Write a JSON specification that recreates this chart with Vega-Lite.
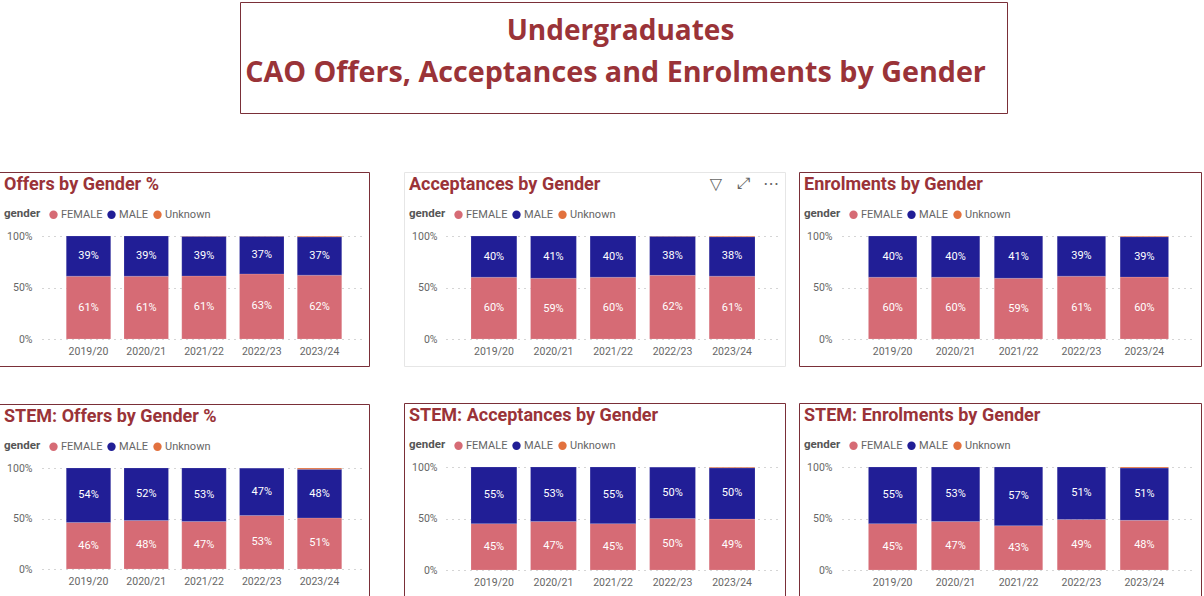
{"$schema":"https://vega.github.io/schema/vega-lite/v6.json","padding":{"left":-2,"top":1,"right":0,"bottom":0},"background":"white","spacing":57,"resolve":{"scale":{"color":"independent"},"legend":{"color":"independent"}},
"config":{"view":{"stroke":null},"font":"Roboto","title":{"font":"Roboto","fontWeight":"bold","fontSize":18,"color":"#9A3338","anchor":"start","frame":"group","offset":0,"dx":5,"dy":26},
"axisX":{"title":null,"domain":false,"ticks":false,"grid":false,"labelAngle":0,"labelColor":"#666666","labelFontSize":10.5,"labelPadding":7},
"axisY":{"title":null,"domain":false,"ticks":false,"grid":true,"gridDash":[1,5],"gridColor":"#aaaaaa","format":".0%","labelColor":"#666666","labelFontSize":10.5,"labelPadding":2},
"legend":{"direction":"horizontal","symbolType":"circle","symbolSize":70,"labelFontSize":11,"labelColor":"#666666","titleFontSize":11.5,"titleColor":"#555555","titleFontWeight":"bold","columnPadding":3,"labelOffset":2,"titlePadding":7,"symbolStrokeWidth":0}},
"datasets":{
"offers":[{"y":"2019/20","g":"FEMALE","v":0.61},{"y":"2019/20","g":"MALE","v":0.39},{"y":"2020/21","g":"FEMALE","v":0.61},{"y":"2020/21","g":"MALE","v":0.39},{"y":"2021/22","g":"FEMALE","v":0.612},{"y":"2021/22","g":"MALE","v":0.385},{"y":"2021/22","g":"Unknown","v":0.003},{"y":"2022/23","g":"FEMALE","v":0.632},{"y":"2022/23","g":"MALE","v":0.366},{"y":"2022/23","g":"Unknown","v":0.002},{"y":"2023/24","g":"FEMALE","v":0.62},{"y":"2023/24","g":"MALE","v":0.372},{"y":"2023/24","g":"Unknown","v":0.008}],
"accept":[{"y":"2019/20","g":"FEMALE","v":0.6},{"y":"2019/20","g":"MALE","v":0.4},{"y":"2020/21","g":"FEMALE","v":0.59},{"y":"2020/21","g":"MALE","v":0.41},{"y":"2021/22","g":"FEMALE","v":0.6},{"y":"2021/22","g":"MALE","v":0.4},{"y":"2022/23","g":"FEMALE","v":0.618},{"y":"2022/23","g":"MALE","v":0.38},{"y":"2022/23","g":"Unknown","v":0.002},{"y":"2023/24","g":"FEMALE","v":0.61},{"y":"2023/24","g":"MALE","v":0.383},{"y":"2023/24","g":"Unknown","v":0.007}],
"enrol":[{"y":"2019/20","g":"FEMALE","v":0.6},{"y":"2019/20","g":"MALE","v":0.4},{"y":"2020/21","g":"FEMALE","v":0.6},{"y":"2020/21","g":"MALE","v":0.4},{"y":"2021/22","g":"FEMALE","v":0.59},{"y":"2021/22","g":"MALE","v":0.41},{"y":"2022/23","g":"FEMALE","v":0.61},{"y":"2022/23","g":"MALE","v":0.389},{"y":"2022/23","g":"Unknown","v":0.001},{"y":"2023/24","g":"FEMALE","v":0.601},{"y":"2023/24","g":"MALE","v":0.392},{"y":"2023/24","g":"Unknown","v":0.007}],
"soffers":[{"y":"2019/20","g":"FEMALE","v":0.46},{"y":"2019/20","g":"MALE","v":0.54},{"y":"2020/21","g":"FEMALE","v":0.48},{"y":"2020/21","g":"MALE","v":0.52},{"y":"2021/22","g":"FEMALE","v":0.47},{"y":"2021/22","g":"MALE","v":0.53},{"y":"2022/23","g":"FEMALE","v":0.53},{"y":"2022/23","g":"MALE","v":0.469},{"y":"2022/23","g":"Unknown","v":0.001},{"y":"2023/24","g":"FEMALE","v":0.506},{"y":"2023/24","g":"MALE","v":0.482},{"y":"2023/24","g":"Unknown","v":0.012}],
"saccept":[{"y":"2019/20","g":"FEMALE","v":0.45},{"y":"2019/20","g":"MALE","v":0.55},{"y":"2020/21","g":"FEMALE","v":0.47},{"y":"2020/21","g":"MALE","v":0.53},{"y":"2021/22","g":"FEMALE","v":0.45},{"y":"2021/22","g":"MALE","v":0.55},{"y":"2022/23","g":"FEMALE","v":0.499},{"y":"2022/23","g":"MALE","v":0.5},{"y":"2022/23","g":"Unknown","v":0.001},{"y":"2023/24","g":"FEMALE","v":0.494},{"y":"2023/24","g":"MALE","v":0.498},{"y":"2023/24","g":"Unknown","v":0.008}],
"senrol":[{"y":"2019/20","g":"FEMALE","v":0.45},{"y":"2019/20","g":"MALE","v":0.55},{"y":"2020/21","g":"FEMALE","v":0.47},{"y":"2020/21","g":"MALE","v":0.53},{"y":"2021/22","g":"FEMALE","v":0.43},{"y":"2021/22","g":"MALE","v":0.57},{"y":"2022/23","g":"FEMALE","v":0.49},{"y":"2022/23","g":"MALE","v":0.51},{"y":"2023/24","g":"FEMALE","v":0.482},{"y":"2023/24","g":"MALE","v":0.508},{"y":"2023/24","g":"Unknown","v":0.01}]},
"vconcat":[
{"spacing":239,"hconcat":[
{"width":1,"height":1,"data":{"values":[]},"mark":"text","encoding":{}},
{"width":767,"height":111,"view":{"stroke":"#7A2F38"},"data":{"values":[{"line":"Undergraduates"},{"line":"CAO Offers, Acceptances and Enrolments by Gender"}]},
"layer":[{"transform":[{"filter":"datum.line=='Undergraduates'"}],"mark":{"type":"text","font":"Open Sans","fontWeight":"bold","fontSize":28,"color":"#9A3338","dx":-3},"encoding":{"y":{"field":"line","type":"nominal","sort":null,"axis":null,"scale":{"type":"point","padding":0,"domain":["Undergraduates","CAO Offers, Acceptances and Enrolments by Gender"],"range":[30,71]}},"text":{"field":"line"}}},
{"transform":[{"filter":"datum.line!='Undergraduates'"}],"mark":{"type":"text","font":"Open Sans","fontWeight":"bold","fontSize":28.7,"color":"#9A3338","dx":-8},"encoding":{"y":{"field":"line","type":"nominal","sort":null,"axis":null,"scale":{"type":"point","padding":0,"domain":["Undergraduates","CAO Offers, Acceptances and Enrolments by Gender"],"range":[30,71]}},"text":{"field":"line"}}}]}
]},
{"spacing":35,"resolve":{"scale":{"color":"independent"},"legend":{"color":"independent"}},"vconcat":[
{"spacing":33,"resolve":{"scale":{"color":"independent"},"legend":{"color":"independent"}},"hconcat":[
{"title":"Offers by Gender %","width":370,"height":194,"view":{"stroke":"#7A2F38"},"data":{"name":"offers"},
"encoding":{"x":{"field":"y","type":"nominal","axis":{"offset":-27},"scale":{"range":[43,367],"paddingInner":0.23,"paddingOuter":0.42}},"y":{"field":"v","type":"quantitative","stack":"zero","axis":{"offset":-35,"values":[0,0.5,1]},"scale":{"domain":[0,1],"nice":false,"range":[167,64]}},"order":{"field":"g","sort":"ascending"}},
"layer":[{"mark":{"type":"bar","stroke":"white","strokeOpacity":0.3,"strokeWidth":0.5},"encoding":{"color":{"field":"g","type":"nominal","scale":{"domain":["FEMALE","MALE","Unknown"],"range":["#D66B75","#211E96","#E2713E"]},"legend":{"title":"gender","orient":"none","titleOrient":"left","legendX":5,"legendY":37}}}},
{"transform":[{"filter":"datum.v>0.1"}],"mark":{"type":"text","color":"white","fontSize":11},"encoding":{"y":{"field":"v","type":"quantitative","stack":"zero","bandPosition":0.5},"detail":{"field":"g"},"text":{"field":"v","format":".0%"}}}]},
{"spacing":12,"resolve":{"scale":{"color":"independent"},"legend":{"color":"independent"}},"hconcat":[
{"title":"Acceptances by Gender","width":381,"height":194,"view":{"stroke":"#E6E6E6"},"data":{"name":"accept"},
"resolve":{"scale":{"x":"independent","y":"independent"}},
"layer":[{"encoding":{"x":{"field":"y","type":"nominal","axis":{"offset":-27},"scale":{"range":[42,376],"paddingInner":0.23,"paddingOuter":0.42}},"y":{"field":"v","type":"quantitative","stack":"zero","axis":{"offset":-35,"values":[0,0.5,1]},"scale":{"domain":[0,1],"nice":false,"range":[167,64]}},"order":{"field":"g","sort":"ascending"}},
"layer":[{"mark":{"type":"bar","stroke":"white","strokeOpacity":0.3,"strokeWidth":0.5},"encoding":{"color":{"field":"g","type":"nominal","scale":{"domain":["FEMALE","MALE","Unknown"],"range":["#D66B75","#211E96","#E2713E"]},"legend":{"title":"gender","orient":"none","titleOrient":"left","legendX":5,"legendY":37}}}},
{"transform":[{"filter":"datum.v>0.1"}],"mark":{"type":"text","color":"white","fontSize":11},"encoding":{"y":{"field":"v","type":"quantitative","stack":"zero","bandPosition":0.5},"detail":{"field":"g"},"text":{"field":"v","format":".0%"}}}]},
{"data":{"values":[{"icon":"▽"},{"icon":"⤢"},{"icon":"⋯"}]},"mark":{"type":"text","font":"DejaVu Sans","fontSize":16,"color":"#666666"},"encoding":{"x":{"field":"icon","type":"nominal","sort":null,"axis":null,"scale":{"type":"point","range":[312,367],"padding":0}},"y":{"field":"icon","type":"nominal","axis":null,"scale":{"type":"point","range":[12,12],"padding":0}},"text":{"field":"icon"}}}]},
{"title":"Enrolments by Gender","width":402,"height":194,"view":{"stroke":"#7A2F38"},"data":{"name":"enrol"},
"encoding":{"x":{"field":"y","type":"nominal","axis":{"offset":-27},"scale":{"range":[43,396],"paddingInner":0.23,"paddingOuter":0.42}},"y":{"field":"v","type":"quantitative","stack":"zero","axis":{"offset":-35,"values":[0,0.5,1]},"scale":{"domain":[0,1],"nice":false,"range":[167,64]}},"order":{"field":"g","sort":"ascending"}},
"layer":[{"mark":{"type":"bar","stroke":"white","strokeOpacity":0.3,"strokeWidth":0.5},"encoding":{"color":{"field":"g","type":"nominal","scale":{"domain":["FEMALE","MALE","Unknown"],"range":["#D66B75","#211E96","#E2713E"]},"legend":{"title":"gender","orient":"none","titleOrient":"left","legendX":5,"legendY":37}}}},
{"transform":[{"filter":"datum.v>0.1"}],"mark":{"type":"text","color":"white","fontSize":11},"encoding":{"y":{"field":"v","type":"quantitative","stack":"zero","bandPosition":0.5},"detail":{"field":"g"},"text":{"field":"v","format":".0%"}}}]}
]}
]},
{"spacing":33,"resolve":{"scale":{"color":"independent"},"legend":{"color":"independent"}},"hconcat":[
{"spacing":-3,"resolve":{"scale":{"color":"independent"},"legend":{"color":"independent"}},"vconcat":[
{"width":1,"height":1,"data":{"values":[]},"mark":"text","encoding":{}},
{"title":"STEM: Offers by Gender %","width":370,"height":195,"view":{"stroke":"#7A2F38"},"data":{"name":"soffers"},
"encoding":{"x":{"field":"y","type":"nominal","axis":{"offset":-30},"scale":{"range":[43,367],"paddingInner":0.23,"paddingOuter":0.42}},"y":{"field":"v","type":"quantitative","stack":"zero","axis":{"offset":-35,"values":[0,0.5,1]},"scale":{"domain":[0,1],"nice":false,"range":[165,64]}},"order":{"field":"g","sort":"ascending"}},
"layer":[{"mark":{"type":"bar","stroke":"white","strokeOpacity":0.3,"strokeWidth":0.5},"encoding":{"color":{"field":"g","type":"nominal","scale":{"domain":["FEMALE","MALE","Unknown"],"range":["#D66B75","#211E96","#E2713E"]},"legend":{"title":"gender","orient":"none","titleOrient":"left","legendX":5,"legendY":37}}}},
{"transform":[{"filter":"datum.v>0.1"}],"mark":{"type":"text","color":"white","fontSize":11},"encoding":{"y":{"field":"v","type":"quantitative","stack":"zero","bandPosition":0.5},"detail":{"field":"g"},"text":{"field":"v","format":".0%"}}}]}
]},
{"spacing":12,"resolve":{"scale":{"color":"independent"},"legend":{"color":"independent"}},"hconcat":[
{"title":"STEM: Acceptances by Gender","width":381,"height":197,"view":{"stroke":"#7A2F38"},"data":{"name":"saccept"},
"encoding":{"x":{"field":"y","type":"nominal","axis":{"offset":-30},"scale":{"range":[42,376],"paddingInner":0.23,"paddingOuter":0.42}},"y":{"field":"v","type":"quantitative","stack":"zero","axis":{"offset":-35,"values":[0,0.5,1]},"scale":{"domain":[0,1],"nice":false,"range":[167,64]}},"order":{"field":"g","sort":"ascending"}},
"layer":[{"mark":{"type":"bar","stroke":"white","strokeOpacity":0.3,"strokeWidth":0.5},"encoding":{"color":{"field":"g","type":"nominal","scale":{"domain":["FEMALE","MALE","Unknown"],"range":["#D66B75","#211E96","#E2713E"]},"legend":{"title":"gender","orient":"none","titleOrient":"left","legendX":5,"legendY":37}}}},
{"transform":[{"filter":"datum.v>0.1"}],"mark":{"type":"text","color":"white","fontSize":11},"encoding":{"y":{"field":"v","type":"quantitative","stack":"zero","bandPosition":0.5},"detail":{"field":"g"},"text":{"field":"v","format":".0%"}}}]},
{"title":"STEM: Enrolments by Gender","width":402,"height":197,"view":{"stroke":"#7A2F38"},"data":{"name":"senrol"},
"encoding":{"x":{"field":"y","type":"nominal","axis":{"offset":-30},"scale":{"range":[43,396],"paddingInner":0.23,"paddingOuter":0.42}},"y":{"field":"v","type":"quantitative","stack":"zero","axis":{"offset":-35,"values":[0,0.5,1]},"scale":{"domain":[0,1],"nice":false,"range":[167,64]}},"order":{"field":"g","sort":"ascending"}},
"layer":[{"mark":{"type":"bar","stroke":"white","strokeOpacity":0.3,"strokeWidth":0.5},"encoding":{"color":{"field":"g","type":"nominal","scale":{"domain":["FEMALE","MALE","Unknown"],"range":["#D66B75","#211E96","#E2713E"]},"legend":{"title":"gender","orient":"none","titleOrient":"left","legendX":5,"legendY":37}}}},
{"transform":[{"filter":"datum.v>0.1"}],"mark":{"type":"text","color":"white","fontSize":11},"encoding":{"y":{"field":"v","type":"quantitative","stack":"zero","bandPosition":0.5},"detail":{"field":"g"},"text":{"field":"v","format":".0%"}}}]}
]}
]}
]}
]}
